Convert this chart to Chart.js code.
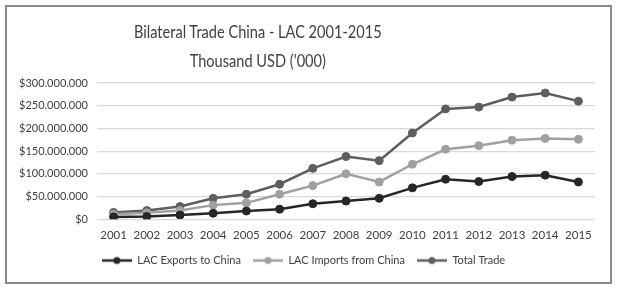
<!DOCTYPE html>
<html>
<head>
<meta charset="utf-8">
<script src="https://cdn.jsdelivr.net/npm/chart.js@4"></script>
<style>
  html, body { margin:0; padding:0; background:#fff; }
  #wrap { position:relative; width:620px; height:288px; }
  #frame { position:absolute; left:5px; top:5px; width:603px; height:275px; border:2px solid #8a8a8a; }
  canvas { position:absolute; left:0; top:0; }
  .ttl { position:absolute; left:0; width:516px; text-align:center; font-family:Lato, sans-serif;
         font-size:18px; color:#404040; white-space:nowrap; transform:scaleX(0.81); transform-origin:257px 0; }
</style>
</head>
<body>
<div id="wrap">
  <div id="frame"></div>
  <canvas id="c" width="620" height="288"></canvas>
  <div class="ttl" style="top:20px">Bilateral Trade China - LAC 2001-2015</div>
  <div class="ttl" style="top:49px">Thousand USD ('000)</div>
</div>
<script>
/* ---- data, in millions of the chart unit ---- */
const years    = ['2001','2002','2003','2004','2005','2006','2007','2008','2009','2010','2011','2012','2013','2014','2015'];
const exportsM = [5, 6, 9, 13, 18, 22, 34, 40, 46, 69, 88, 83, 94, 97, 82];
const importsM = [11, 14, 19, 31, 36, 55, 74, 100, 82, 121, 154, 162, 174, 178, 176];
const totalM   = [15, 19, 28, 46, 55, 77, 112, 138, 129, 190, 243, 247, 269, 278, 260];
const seriesNames  = ['LAC Exports to China', 'LAC Imports from China', 'Total Trade'];
const seriesColors = ['#262626', '#a0a0a0', '#5e5e5e'];
const yTicks = [0, 50000000, 100000000, 150000000, 200000000, 250000000, 300000000];

const toUnits = arr => arr.map(v => v * 1000000);

function money(v) {
  return '$' + String(Math.round(v)).replace(/\B(?=(\d{3})+(?!\d))/g, '.');
}

/* legend swatch: short line with a dot in the middle, like Excel */
function swatch(color) {
  const s = document.createElement('canvas');
  s.width = 30; s.height = 10;
  const g = s.getContext('2d');
  g.strokeStyle = color; g.lineWidth = 2.5;
  g.beginPath(); g.moveTo(0, 5); g.lineTo(30, 5); g.stroke();
  g.fillStyle = color;
  g.beginPath(); g.arc(15, 5, 3.5, 0, Math.PI * 2); g.fill();
  return s;
}

const values = [toUnits(exportsM), toUnits(importsM), toUnits(totalM)];

new Chart(document.getElementById('c'), {
  type: 'line',
  data: {
    labels: years,
    datasets: seriesNames.map((name, i) => ({
      label: name,
      data: values[i],
      borderColor: seriesColors[i],
      backgroundColor: seriesColors[i],
      borderWidth: 2.5,
      pointRadius: 4,
      pointBorderWidth: 1,
      tension: 0
    }))
  },
  options: {
    responsive: false,
    animation: false,
    layout: { padding: { left: 12, right: 25, top: 83, bottom: 12 } },
    plugins: {
      legend: {
        position: 'bottom',
        labels: {
          usePointStyle: true,
          pointStyleWidth: 30,
          boxHeight: 10,
          generateLabels: chart => chart.data.datasets.map((ds, i) => ({
            text: ds.label,
            pointStyle: swatch(seriesColors[i]),
            fillStyle: seriesColors[i],
            strokeStyle: seriesColors[i],
            lineWidth: 0,
            hidden: false,
            datasetIndex: i,
            fontColor: '#404040'
          })),
          font: { family: 'Lato', size: 11 },
          padding: 12
        }
      },
      tooltip: { enabled: false }
    },
    scales: {
      x: {
        offset: true,
        grid: { display: false },
        border: { display: false },
        ticks: { color: '#404040', font: { family: 'Lato', size: 11.5 }, maxRotation: 0, autoSkip: false, padding: 1 }
      },
      y: {
        min: 0, max: 300000000,
        afterBuildTicks: axis => { axis.ticks = yTicks.map(v => ({ value: v })); },
        afterFit: axis => { axis.width = 85; },
        grid: { color: '#d9d9d9', lineWidth: 1.2, drawTicks: false },
        border: { display: false },
        ticks: { color: '#404040', font: { family: 'Lato', size: 11 }, autoSkip: false, padding: 9, callback: v => money(v) }
      }
    }
  }
});
</script>
</body>
</html>
